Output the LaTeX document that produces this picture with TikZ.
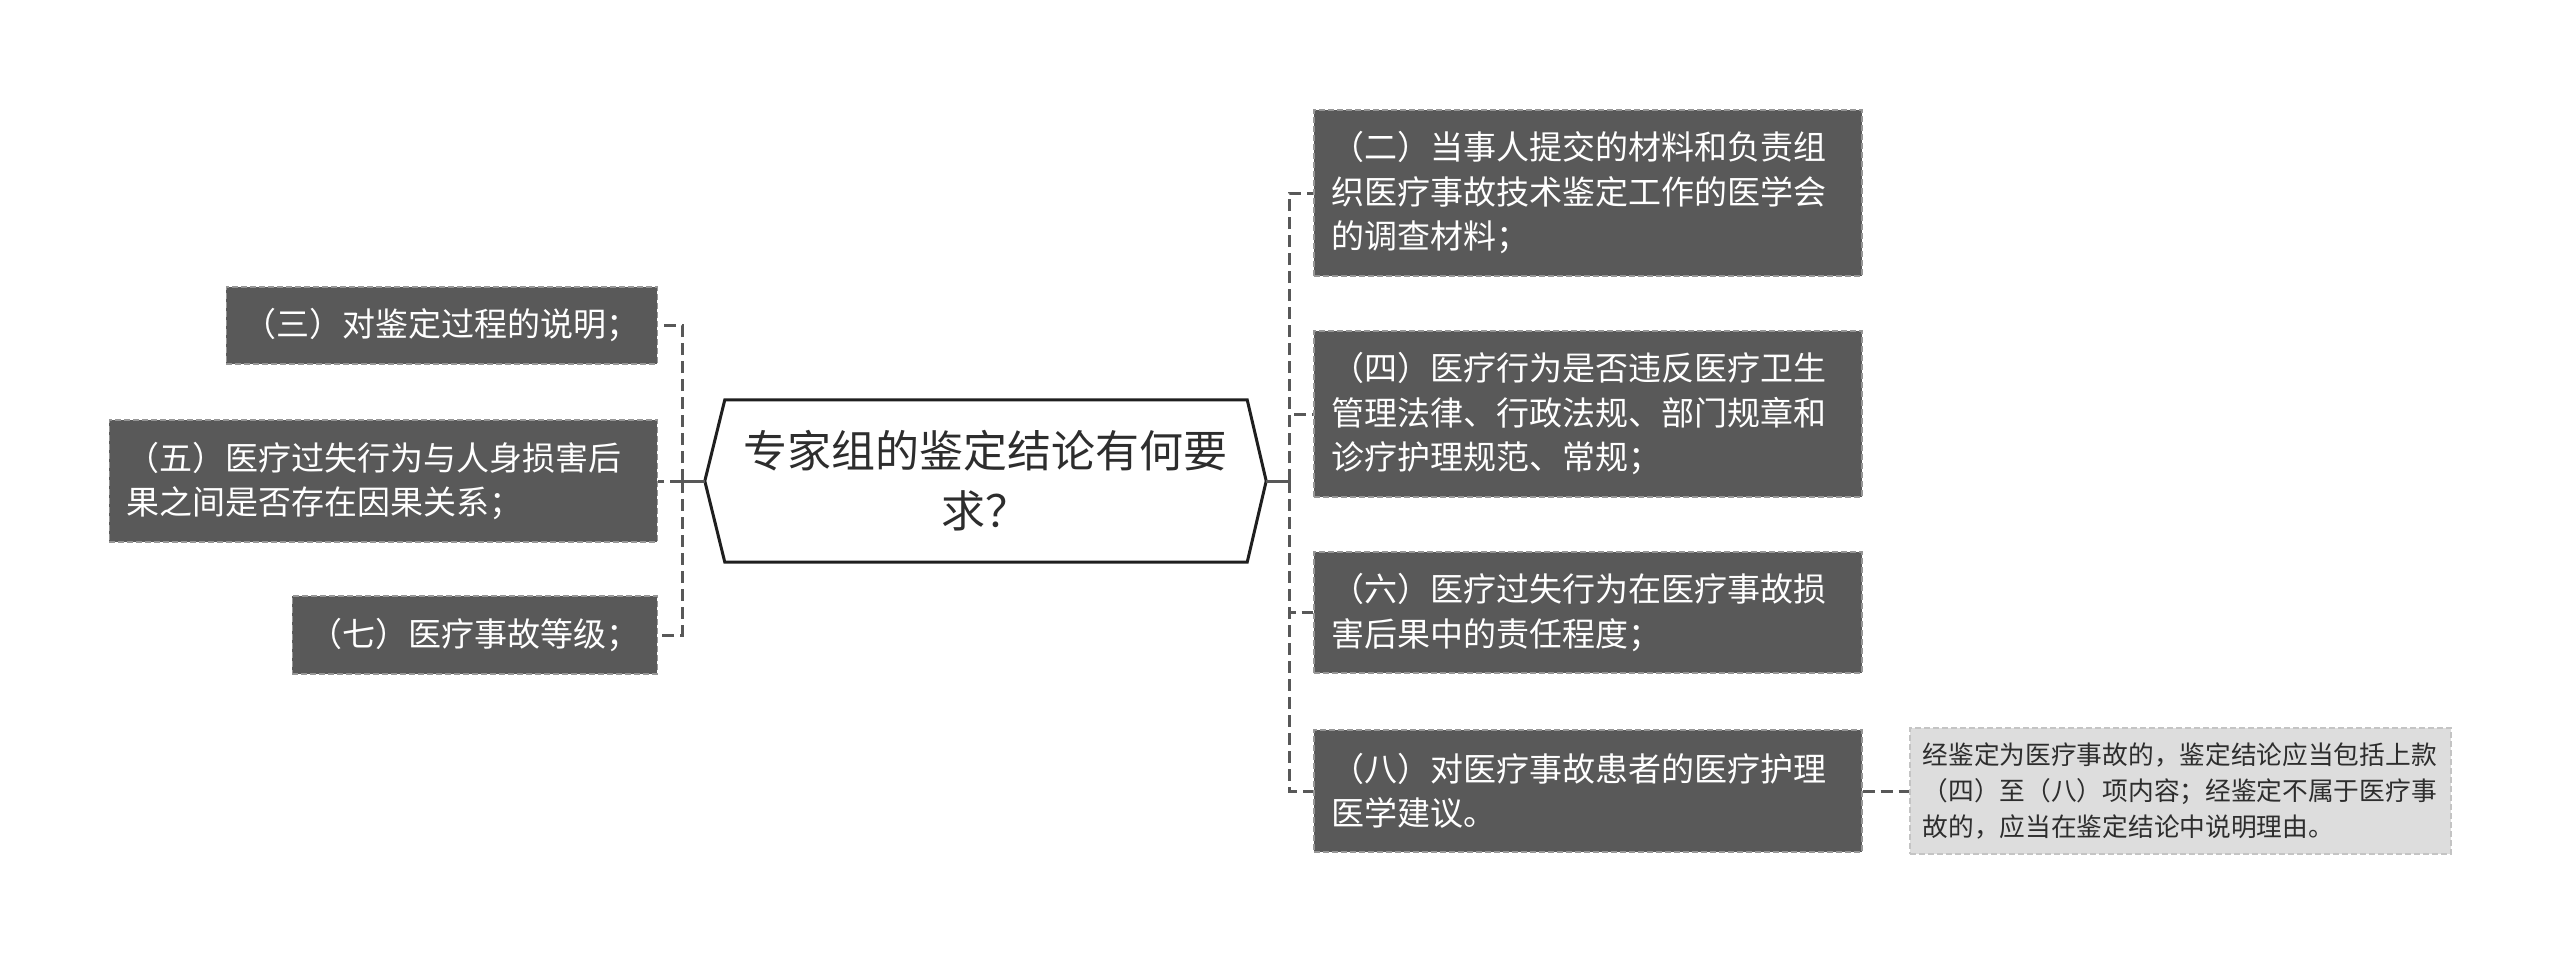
\documentclass[tikz,border=0pt]{standalone}
\usepackage{fontspec}
\setmainfont{Noto Sans CJK SC}
\usepackage{tikz}
\definecolor{leafgray}{RGB}{89,89,89}
\definecolor{leafedge}{RGB}{150,150,150}
\definecolor{notegray}{RGB}{221,221,221}
\definecolor{noteedge}{RGB}{196,196,196}
\definecolor{linkgray}{RGB}{88,88,88}
\definecolor{roottext}{RGB}{45,45,45}
\tikzset{
  leafbox/.style={fill=leafgray, draw=leafedge, line width=1.5pt,
    dash pattern=on 6pt off 3pt, text=white, align=left,
    font=\fontsize{33}{44.5}\selectfont, inner xsep=17.5pt, inner ysep=0pt},
  notebox/.style={fill=notegray, draw=noteedge, line width=1.5pt,
    dash pattern=on 6pt off 3pt, text=roottext, align=left,
    font=\fontsize{25.7}{36}\selectfont, inner xsep=13pt, inner ysep=0pt},
  rootbox/.style={text=roottext, align=center, inner sep=0pt,
    font=\fontsize{44}{60}\selectfont},
  rootline/.style={draw=black!88, line width=3pt},
  rootlink/.style={draw=linkgray, line width=3pt},
  branchlink/.style={draw=linkgray, line width=3pt, dash pattern=on 12pt off 6pt},
}
\begin{document}
\begin{tikzpicture}[x=1pt, y=-1pt]
\useasboundingbox (0,0) rectangle (2560,964);

% Central question
\node[rootbox, minimum width=561pt, minimum height=162pt] (root) at (985.5,481)
    {专家组的鉴定结论有何要\\求？};
\draw[rootline] ([xshift=20pt]root.north west) -- ([xshift=-19pt]root.north east)
    -- (root.east) -- ([xshift=-19pt]root.south east)
    -- ([xshift=20pt]root.south west) -- (root.west) -- cycle;

% Left branches
\node[leafbox, anchor=east, minimum height=77pt] (n3) at (658,325.5)
    {（三）对鉴定过程的说明；};
\node[leafbox, anchor=east, text width=513pt, minimum height=122pt] (n5) at (658,481)
    {（五）医疗过失行为与人身损害后\\果之间是否存在因果关系；};
\node[leafbox, anchor=east, minimum height=78pt] (n7) at (658,635)
    {（七）医疗事故等级；};

% Right branches
\node[leafbox, anchor=west, text width=513pt, minimum height=166pt] (n2) at (1313,193)
    {（二）当事人提交的材料和负责组\\织医疗事故技术鉴定工作的医学会\\的调查材料；};
\node[leafbox, anchor=west, text width=513pt, minimum height=166pt] (n4) at (1313,414)
    {（四）医疗行为是否违反医疗卫生\\管理法律、行政法规、部门规章和\\诊疗护理规范、常规；};
\node[leafbox, anchor=west, text width=513pt, minimum height=121pt] (n6) at (1313,612.5)
    {（六）医疗过失行为在医疗事故损\\害后果中的责任程度；};
\node[leafbox, anchor=west, text width=513pt, minimum height=122pt] (n8) at (1313,791)
    {（八）对医疗事故患者的医疗护理\\医学建议。};

% Note on (八)
\node[notebox, anchor=west, text width=515pt, minimum height=126pt] (note) at (1909,791)
    {经鉴定为医疗事故的，鉴定结论应当包括上款\\（四）至（八）项内容；经鉴定不属于医疗事\\故的，应当在鉴定结论中说明理由。};

% Connectors
\coordinate (ltrunk) at (682,481);
\coordinate (rtrunk) at (1289,481);
\draw[rootlink] (root.west) -- (ltrunk);
\draw[rootlink] (root.east) -- (rtrunk);
\foreach \n in {n3,n5,n7}
  \draw[branchlink] (ltrunk) |- (\n.east);
\foreach \n in {n2,n4,n6,n8}
  \draw[branchlink] (rtrunk) |- (\n.west);
\draw[branchlink] (n8.east) -- (note.west);

\end{tikzpicture}
\end{document}
